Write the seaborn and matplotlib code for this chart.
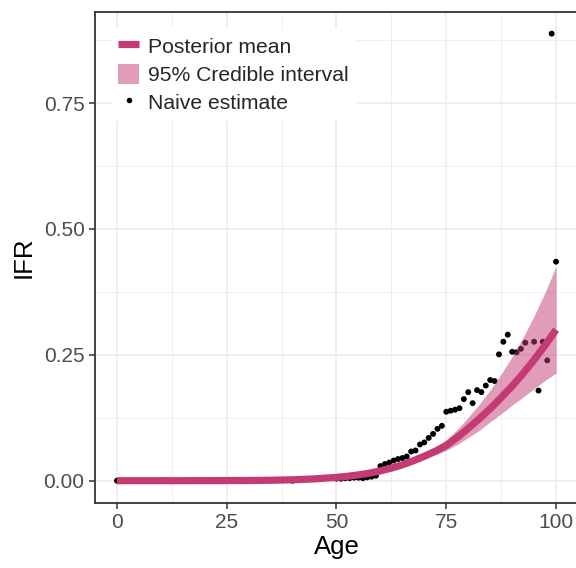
import numpy as np
import pandas as pd
import matplotlib
matplotlib.use("Agg")
import matplotlib.pyplot as plt
import seaborn as sns
from matplotlib.lines import Line2D
from matplotlib.patches import Patch

# ---- data ----
curve_age = [0, 5, 10, 15, 20, 25, 30, 35, 40, 45,
             50, 52.5, 55, 57.5, 60, 62.5, 65, 67.5, 70, 72.5,
             75, 77.5, 80, 82.5, 85, 87.5, 90, 92.5, 95, 97.5, 100]
post_mean = [0.0000, 0.0000, 0.0000, 0.0000, 0.0001, 0.0002, 0.0004, 0.0009, 0.0018, 0.0036,
             0.0066, 0.0088, 0.0115, 0.0150, 0.0195, 0.0250, 0.0315, 0.0395, 0.0485, 0.0585,
             0.0700, 0.0860, 0.1040, 0.1230, 0.1430, 0.1650, 0.1880, 0.2130, 0.2400, 0.2690, 0.3000]
ci_lower = [0.0000, 0.0000, 0.0000, 0.0000, 0.0001, 0.0002, 0.0004, 0.0009, 0.0018, 0.0036,
            0.0065, 0.0087, 0.0113, 0.0146, 0.0188, 0.0238, 0.0294, 0.0361, 0.0434, 0.0514,
            0.0602, 0.0720, 0.0860, 0.1000, 0.1170, 0.1330, 0.1500, 0.1660, 0.1830, 0.1990, 0.2140]
ci_upper = [0.0000, 0.0000, 0.0000, 0.0000, 0.0001, 0.0002, 0.0004, 0.0009, 0.0018, 0.0036,
            0.0067, 0.0089, 0.0117, 0.0154, 0.0202, 0.0263, 0.0338, 0.0432, 0.0541, 0.0666,
            0.0813, 0.1019, 0.1258, 0.1517, 0.1800, 0.2119, 0.2463, 0.2847, 0.3272, 0.3742, 0.4257]

naive_age = [0, 10, 20, 30, 40, 50, 51, 52, 53, 54, 55, 56, 57, 58, 59,
             60, 61, 62, 63, 64, 65, 66, 67, 68, 69, 70, 71, 72, 73, 74,
             75, 76, 77, 78, 79, 80, 81, 82, 83, 84, 85, 86, 87, 88, 89,
             90, 91, 92, 93, 95, 96, 97, 98, 99, 100]
naive_ifr = [0.000, 0.000, 0.000, 0.000, 0.000, 0.004, 0.004, 0.005, 0.005, 0.006, 0.006,
             0.005, 0.0066, 0.008, 0.010,
             0.029, 0.033, 0.036, 0.040, 0.043, 0.045, 0.048, 0.058, 0.060, 0.072,
             0.076, 0.085, 0.093, 0.103, 0.109,
             0.137, 0.139, 0.141, 0.144, 0.162, 0.176, 0.154, 0.180, 0.176, 0.189,
             0.200, 0.198, 0.251, 0.276, 0.290,
             0.256, 0.255, 0.262, 0.274, 0.276, 0.179, 0.276, 0.239, 0.888, 0.435]

x_ticks = [0, 25, 50, 75, 100]
y_ticks = [0.00, 0.25, 0.50, 0.75]
y_tick_labels = ["0.00", "0.25", "0.50", "0.75"]

line_color = "#C43B74"

curve = pd.DataFrame({"Age": curve_age, "mean": post_mean, "lo": ci_lower, "hi": ci_upper})
naive = pd.DataFrame({"Age": naive_age, "IFR": naive_ifr})

sns.set_theme(style="whitegrid")
plt.rcParams["font.family"] = ["Liberation Sans", "DejaVu Sans"]

fig = plt.figure(figsize=(5.76, 5.68), dpi=100)
ax = fig.add_axes([95 / 576, 65 / 568, 483 / 576, 491 / 568])
ax.set_facecolor("white")

sns.scatterplot(data=naive, x="Age", y="IFR", ax=ax, color="black", s=18,
                edgecolor="none", linewidth=0, zorder=2, legend=False)
ax.fill_between(curve["Age"], curve["lo"], curve["hi"], color=line_color, alpha=0.5,
                linewidth=0, zorder=3)
sns.lineplot(data=curve, x="Age", y="mean", ax=ax, color=line_color, linewidth=5.2,
             zorder=4, legend=False, solid_capstyle="butt")

ax.set_xlim(-5, 105)
ax.set_ylim(-0.0443, 0.931)
ax.set_xticks(x_ticks)
ax.set_yticks(y_ticks)
ax.set_yticklabels(y_tick_labels)
ax.set_xticks([12.5, 37.5, 62.5, 87.5], minor=True)
ax.set_yticks([0.125, 0.375, 0.625, 0.875], minor=True)

ax.grid(which="major", color="#EBEBEB", linewidth=1.1)
ax.grid(which="minor", color="#EBEBEB", linewidth=0.55)
ax.set_axisbelow(True)

for s in ax.spines.values():
    s.set_visible(True)
    s.set_color("#333333")
    s.set_linewidth(1.3)

ax.tick_params(axis="both", which="major", direction="out", length=4.5, width=1.1,
               color="#333333", labelsize=15, labelcolor="#4D4D4D", pad=3,
               bottom=True, left=True)
ax.tick_params(axis="both", which="minor", length=0)

ax.set_xlabel("Age", fontsize=18.5, color="black", labelpad=2)
ax.set_ylabel("IFR", fontsize=18.5, color="black", labelpad=6)

handles = [
    Line2D([0], [0], color=line_color, linewidth=5.2, solid_capstyle="butt"),
    Patch(facecolor=line_color, alpha=0.5, edgecolor="none"),
    Line2D([0], [0], marker="o", color="black", linestyle="none", markersize=3),
]
labels = ["Posterior mean", "95% Credible interval", "Naive estimate"]
leg = ax.legend(handles, labels, loc="upper left", bbox_to_anchor=(0.035, 0.965),
                frameon=True, fancybox=False, framealpha=1, edgecolor="white",
                facecolor="white", fontsize=15.2, handlelength=1.0, handleheight=1.1,
                handletextpad=0.4, labelspacing=0.32, borderpad=0.3,
                borderaxespad=0)
leg.set_zorder(5)

fig.savefig("out.png", dpi=100)
